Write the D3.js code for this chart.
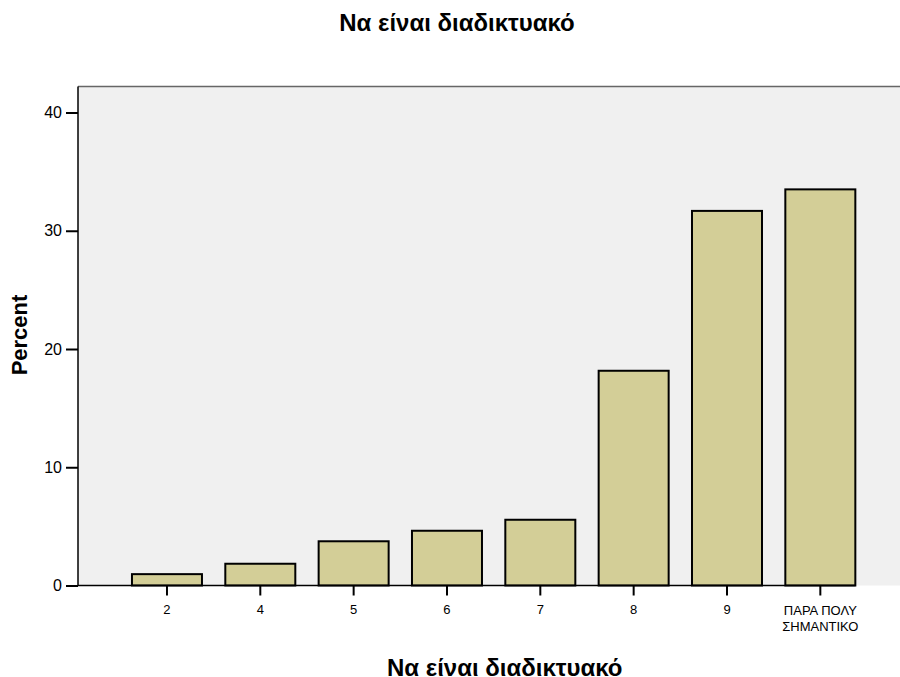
<!DOCTYPE html>
<html>
<head>
<meta charset="utf-8">
<script src="https://cdn.jsdelivr.net/npm/d3@7"></script>
<style>
  body { margin: 0; background: #fff; }
  text { font-family: "Liberation Sans", Arial, sans-serif; }
</style>
</head>
<body>
<svg id="chart" width="900" height="677"></svg>
<script>
const title = "Να είναι διαδικτυακό"
const xTitle = "Να είναι διαδικτυακό"
const yTitle = "Percent"
const categories = ["2", "4", "5", "6", "7", "8", "9", "ΠΑΡΑ ΠΟΛΥ\nΣΗΜΑΝΤΙΚΟ"]
const percents = [0.96, 1.84, 3.74, 4.63, 5.56, 18.16, 31.68, 33.5]
const yTicks = [0, 10, 20, 30, 40]

const svg = d3.select("#chart")
const plotL = 78, plotT = 86.5, plotB = 585.5, plotR = 900

const x = d3.scaleBand()
  .domain(categories)
  .range([120.3, 867])
  .paddingInner(0.25)
  .paddingOuter(0.125)
const y = d3.scaleLinear().domain([0, 42.2]).range([plotB, plotT])

// plot background (the frame runs past the right edge of the picture)
svg.append("rect")
  .attr("x", plotL).attr("y", plotT)
  .attr("width", plotR - plotL).attr("height", plotB - plotT)
  .attr("fill", "#f0f0f0")
svg.append("line")
  .attr("x1", plotL).attr("x2", plotR)
  .attr("y1", plotT).attr("y2", plotT)
  .attr("stroke", "#666").attr("stroke-width", 1.5)

// bars
svg.append("g")
  .selectAll("rect")
  .data(categories)
  .join("rect")
  .attr("x", (d) => x(d))
  .attr("y", (d, i) => y(percents[i]))
  .attr("width", x.bandwidth())
  .attr("height", (d, i) => y(0) - y(percents[i]))
  .attr("fill", "#d3ce97")
  .attr("stroke", "#000")
  .attr("stroke-width", 2)

// y axis
const yAxis = svg.append("g")
  .attr("transform", `translate(${plotL},0)`)
  .call(d3.axisLeft(y).tickValues(yTicks).tickSize(12).tickPadding(4).tickSizeOuter(0))
yAxis.select(".domain").attr("stroke", "#000").attr("stroke-width", 1.5)
  .attr("d", `M0,${plotT}V${plotB}`)
yAxis.selectAll(".tick line").attr("stroke", "#000").attr("stroke-width", 2)
yAxis.selectAll(".tick text").attr("font-size", 16).attr("fill", "#000")
  .attr("font-family", "Liberation Sans, Arial, sans-serif")

// x axis
const xAxis = svg.append("g")
  .attr("transform", `translate(0,${plotB})`)
  .call(d3.axisBottom(x).tickSize(10).tickSizeOuter(0).tickFormat(""))
xAxis.select(".domain").attr("stroke", "#000").attr("stroke-width", 1.5)
  .attr("d", `M${plotL},0H${x(categories[categories.length - 1]) + x.bandwidth()}`)
xAxis.selectAll(".tick line").attr("stroke", "#000").attr("stroke-width", 2)
xAxis.selectAll(".tick").each(function (d) {
  const lines = d.split("\n")
  const t = d3.select(this).append("text")
    .attr("fill", "#000")
    .attr("font-size", 13)
    .attr("text-anchor", "middle")
    .attr("font-family", "Liberation Sans, Arial, sans-serif")
  const y0 = lines.length > 1 ? 29.5 : 28
  lines.forEach((ln, i) => {
    t.append("tspan").attr("x", 0).attr("y", y0 + i * 16).text(ln)
  })
})

// titles
svg.append("text")
  .attr("x", 457).attr("y", 31)
  .attr("text-anchor", "middle")
  .attr("font-size", 24).attr("font-weight", "bold")
  .text(title)
svg.append("text")
  .attr("x", 387).attr("y", 676)
  .attr("text-anchor", "start")
  .attr("font-size", 24).attr("font-weight", "bold")
  .text(xTitle)
svg.append("text")
  .attr("transform", "translate(27,335) rotate(-90)")
  .attr("text-anchor", "middle")
  .attr("font-size", 22).attr("font-weight", "bold")
  .text(yTitle)
</script>
</body>
</html>
